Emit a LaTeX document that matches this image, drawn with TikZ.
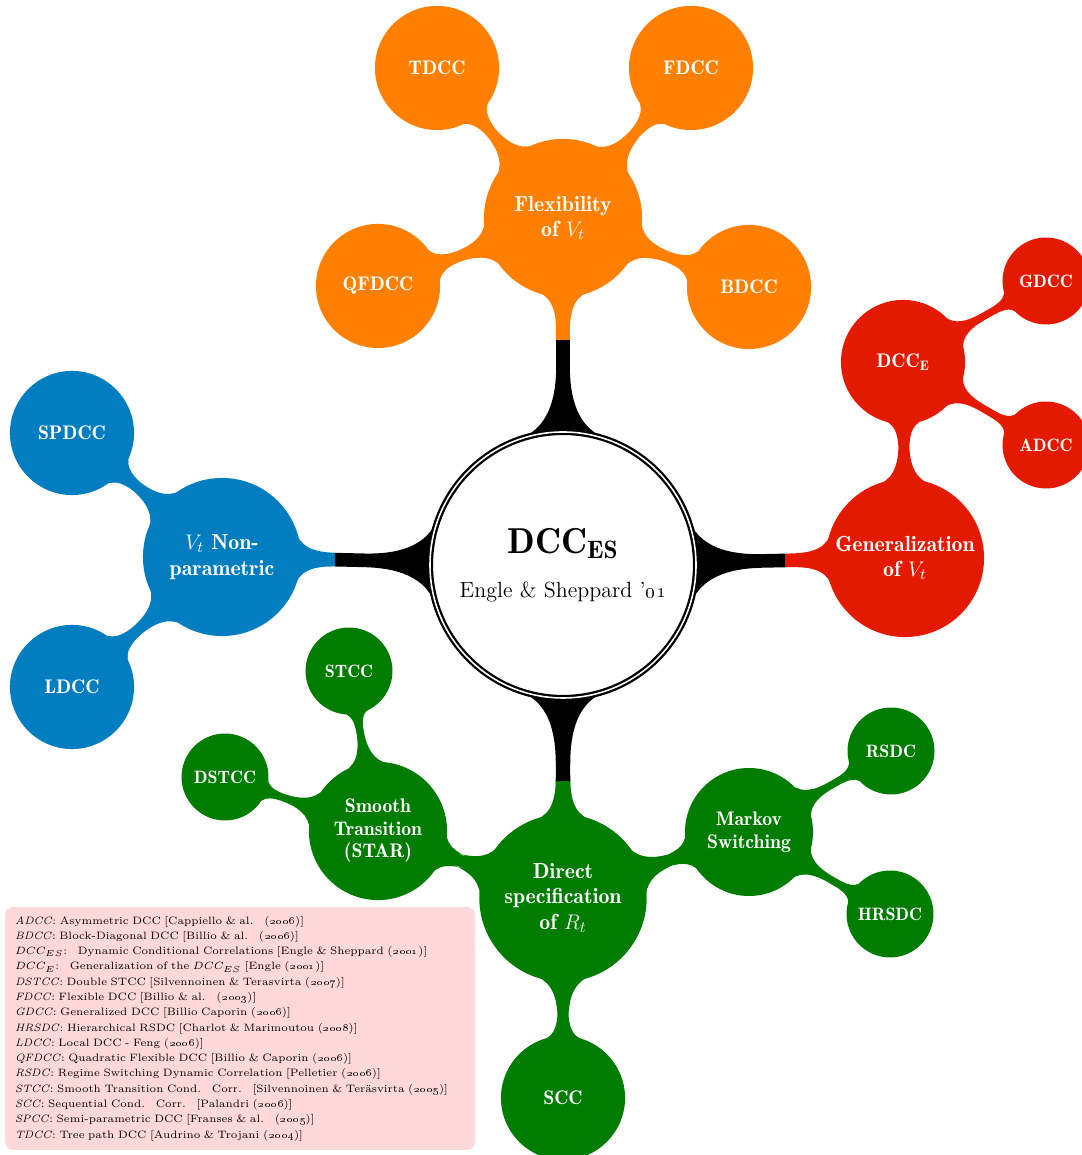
\documentclass[tikz,border=0pt]{standalone}
\usetikzlibrary{mindmap,backgrounds}

\definecolor{flexorange}{RGB}{255,128,0}
\definecolor{genred}{RGB}{228,26,0}
\definecolor{npblue}{RGB}{2,126,192}
\definecolor{directgreen}{RGB}{0,125,0}
\definecolor{notepink}{RGB}{255,217,217}

\begin{document}
\begin{tikzpicture}[mindmap,
  rootconcept/.style={concept, concept color=black, fill=white, text=black, draw=black, line width=1.3pt, double=white, double distance=0.9pt, minimum size=5.32cm, text width=4.8cm, align=center, font=\fontsize{12.5}{19}\selectfont},
  bigconcept/.style={concept, text=white, minimum size=3.12cm, text width=2.9cm, align=center, font=\fontsize{12.4}{14.5}\fontseries{b}\selectfont},
  midconcept/.style={concept, text=white, minimum size=2.44cm, text width=2.3cm, align=center, font=\fontsize{11.2}{12.8}\fontseries{b}\selectfont},
  smallconcept/.style={concept, text=white, minimum size=1.62cm, text width=1.6cm, align=center, font=\fontsize{10.2}{11}\fontseries{b}\selectfont},
  link/.style 2 args={circle connection bar switch color=from (#1) to (#2)}]
\useasboundingbox (0,0) rectangle (21.62,23.10);

\node[rootconcept] (dcc) at (11.26,11.80) {{\fontsize{20.5}{23}\fontseries{b}\selectfont DCC\textsubscript{ES}}\\[6pt]Engle \& Sheppard '\oldstylenums{01}};

\node[bigconcept, concept color=flexorange] (flex) at (11.26,18.74) {Flexibility\\of $V_t$};
\node[bigconcept, concept color=genred] (gen) at (18.10,11.94) {Generalization\\of $V_t$};
\node[bigconcept, concept color=npblue] (nonpar) at (4.44,11.96) {$V_t$ Non-\\parametric};
\node[bigconcept, concept color=directgreen] (direct) at (11.26,5.14) {Direct\\specification\\of $R_t$};

\node[midconcept, concept color=flexorange] (tdcc) at (8.74,21.74) {TDCC};
\node[midconcept, concept color=flexorange] (fdcc) at (13.82,21.74) {FDCC};
\node[midconcept, concept color=flexorange] (qfdcc) at (7.56,17.38) {QFDCC};
\node[midconcept, concept color=flexorange] (bdcc) at (14.98,17.36) {BDCC};

\node[midconcept, concept color=genred] (dcce) at (18.06,15.86) {DCC\textsubscript{E}};
\node[smallconcept, concept color=genred] (gdcc) at (20.92,17.48) {GDCC};
\node[smallconcept, concept color=genred] (adcc) at (20.92,14.20) {ADCC};

\node[midconcept, concept color=npblue] (spdcc) at (1.44,14.44) {SPDCC};
\node[midconcept, concept color=npblue] (ldcc) at (1.44,9.36) {LDCC};

\node[midconcept, concept color=directgreen] (star) at (7.56,6.48) {Smooth\\Transition\\(STAR)};
\node[midconcept, concept color=directgreen] (markov) at (14.98,6.46) {Markov\\Switching};
\node[midconcept, concept color=directgreen] (scc) at (11.26,1.14) {SCC};
\node[smallconcept, concept color=directgreen] (stcc) at (6.98,9.68) {STCC};
\node[smallconcept, concept color=directgreen] (dstcc) at (4.50,7.56) {DSTCC};
\node[smallconcept, concept color=directgreen] (rsdc) at (17.82,8.08) {RSDC};
\node[smallconcept, concept color=directgreen] (hrsdc) at (17.80,4.82) {HRSDC};

\begin{scope}[on background layer]
% root stems: black on the root side, colour on the child side
\begin{scope}
\clip (0,0) rectangle (21.62,16.3);
\path (dcc) to[link={black}{black}] (flex);
\end{scope}
\begin{scope}
\clip (0,16.3) rectangle (21.62,23.10);
\path (dcc) to[link={flexorange}{flexorange}] (flex);
\end{scope}
\begin{scope}
\clip (0,0) rectangle (15.7,23.10);
\path (dcc) to[link={black}{black}] (gen);
\end{scope}
\begin{scope}
\clip (15.7,0) rectangle (21.62,23.10);
\path (dcc) to[link={genred}{genred}] (gen);
\end{scope}
\begin{scope}
\clip (6.7,0) rectangle (21.62,23.10);
\path (dcc) to[link={black}{black}] (nonpar);
\end{scope}
\begin{scope}
\clip (0,0) rectangle (6.7,23.10);
\path (dcc) to[link={npblue}{npblue}] (nonpar);
\end{scope}
\begin{scope}
\clip (0,7.46) rectangle (21.62,23.10);
\path (dcc) to[link={black}{black}] (direct);
\end{scope}
\begin{scope}
\clip (0,0) rectangle (21.62,7.46);
\path (dcc) to[link={directgreen}{directgreen}] (direct);
\end{scope}
\path (flex) to[link={flexorange}{flexorange}] (tdcc);
\path (flex) to[link={flexorange}{flexorange}] (fdcc);
\path (flex) to[link={flexorange}{flexorange}] (qfdcc);
\path (flex) to[link={flexorange}{flexorange}] (bdcc);
\path (gen) to[link={genred}{genred}] (dcce);
\path (dcce) to[link={genred}{genred}] (gdcc);
\path (dcce) to[link={genred}{genred}] (adcc);
\path (nonpar) to[link={npblue}{npblue}] (spdcc);
\path (nonpar) to[link={npblue}{npblue}] (ldcc);
\path (direct) to[link={directgreen}{directgreen}] (star);
\path (direct) to[link={directgreen}{directgreen}] (markov);
\path (direct) to[link={directgreen}{directgreen}] (scc);
\path (star) to[link={directgreen}{directgreen}] (stcc);
\path (star) to[link={directgreen}{directgreen}] (dstcc);
\path (markov) to[link={directgreen}{directgreen}] (rsdc);
\path (markov) to[link={directgreen}{directgreen}] (hrsdc);
\end{scope}

% abbreviations
\node[fill=notepink, rounded corners=4.5pt, anchor=north west, text width=9.0cm, inner xsep=0.2cm, inner ysep=0.18cm, align=left, font=\fontsize{6.1}{8.7}\selectfont] (notes) at (0.1,4.96) {%
\emph{ADCC}: Asymmetric DCC [Cappiello \& al.\quad(\oldstylenums{2006})]\\
\emph{BDCC}: Block-Diagonal DCC [Billio \& al.\quad(\oldstylenums{2006})]\\
$DCC_{ES}$:\quad Dynamic Conditional Correlations [Engle \& Sheppard (\oldstylenums{2001})]\\
$DCC_{E}$:\quad Generalization of the $DCC_{ES}$ [Engle (\oldstylenums{2001})]\\
\emph{DSTCC}: Double STCC [Silvennoinen \& Terasvirta (\oldstylenums{2007})]\\
\emph{FDCC}: Flexible DCC [Billio \& al.\quad(\oldstylenums{2003})]\\
\emph{GDCC}: Generalized DCC [Billio Caporin (\oldstylenums{2006})]\\
\emph{HRSDC}: Hierarchical RSDC [Charlot \& Marimoutou (\oldstylenums{2008})]\\
\emph{LDCC}: Local DCC - Feng (\oldstylenums{2006})]\\
\emph{QFDCC}: Quadratic Flexible DCC [Billio \& Caporin (\oldstylenums{2006})]\\
\emph{RSDC}: Regime Switching Dynamic Correlation [Pelletier (\oldstylenums{2006})]\\
\emph{STCC}: Smooth Transition Cond.\quad Corr.\quad[Silvennoinen \& Teräsvirta (\oldstylenums{2005})]\\
\emph{SCC}: Sequential Cond.\quad Corr.\quad[Palandri (\oldstylenums{2006})]\\
\emph{SPCC}: Semi-parametric DCC [Franses \& al.\quad(\oldstylenums{2005})]\\
\emph{TDCC}: Tree path DCC [Audrino \& Trojani (\oldstylenums{2004})]};
\end{tikzpicture}
\end{document}
